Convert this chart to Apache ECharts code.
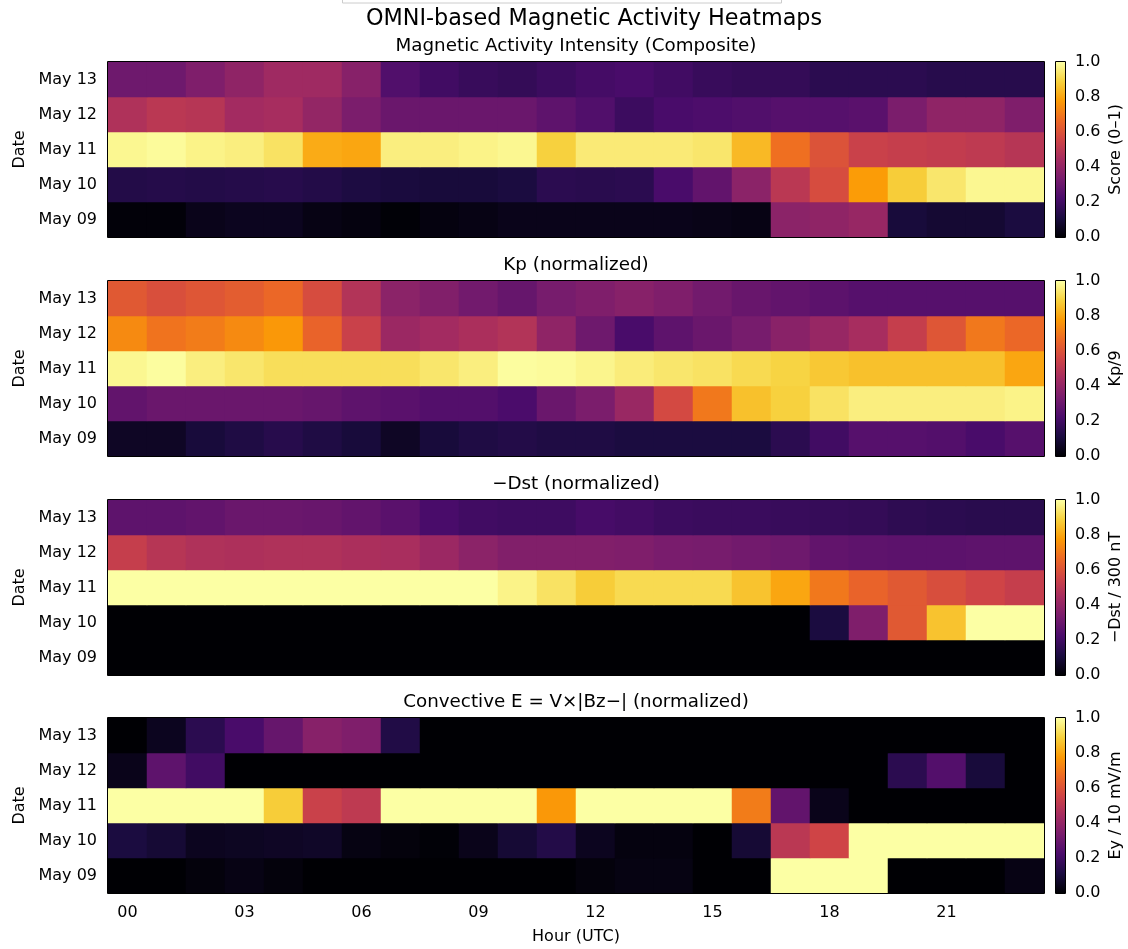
<!DOCTYPE html>
<html>
<head>
<meta charset="utf-8">
<script src="https://cdn.jsdelivr.net/npm/echarts@6/dist/echarts.min.js"></script>
<style>
  html, body { margin: 0; padding: 0; background: #ffffff; }
  #chart { width: 1128px; height: 949px; }
</style>
</head>
<body>
<div id="chart"></div>
<script>
// Hour-of-day categories (UTC) and date rows (bottom to top)
const hours = ['00','01','02','03','04','05','06','07','08','09','10','11',
               '12','13','14','15','16','17','18','19','20','21','22','23'];
const dates = ['May 09', 'May 10', 'May 11', 'May 12', 'May 13'];

// Composite magnetic activity score (0-1), one row per date, 24 hourly values
const composite = [
  [0.01,0.01,0.04,0.05,0.05,0.03,0.02,0.005,0.02,0.03,0.04,0.04,0.04,0.04,0.04,0.035,0.03,0.38,0.39,0.41,0.10,0.085,0.085,0.11],
  [0.13,0.135,0.13,0.135,0.14,0.13,0.115,0.105,0.10,0.10,0.11,0.15,0.145,0.15,0.22,0.28,0.38,0.50,0.58,0.78,0.88,0.94,0.98,0.98],
  [0.98,0.99,0.97,0.96,0.93,0.81,0.80,0.96,0.96,0.97,0.98,0.89,0.95,0.95,0.95,0.94,0.84,0.68,0.60,0.54,0.53,0.52,0.51,0.49],
  [0.47,0.50,0.49,0.44,0.45,0.40,0.34,0.30,0.30,0.30,0.30,0.27,0.24,0.19,0.22,0.23,0.24,0.25,0.25,0.26,0.34,0.39,0.39,0.35],
  [0.31,0.31,0.35,0.39,0.43,0.43,0.37,0.24,0.20,0.18,0.17,0.19,0.21,0.22,0.20,0.18,0.17,0.17,0.15,0.15,0.15,0.14,0.14,0.14]
];

// Kp / 9
const kpNorm = [
  [0.06,0.06,0.10,0.12,0.14,0.12,0.10,0.06,0.10,0.12,0.13,0.12,0.12,0.11,0.11,0.11,0.11,0.15,0.20,0.25,0.25,0.245,0.22,0.25],
  [0.28,0.30,0.30,0.30,0.30,0.29,0.27,0.26,0.245,0.245,0.225,0.30,0.34,0.415,0.57,0.70,0.855,0.89,0.93,0.96,0.96,0.96,0.96,0.97],
  [0.98,0.995,0.96,0.94,0.92,0.92,0.92,0.92,0.94,0.96,0.995,0.99,0.975,0.955,0.94,0.93,0.91,0.895,0.87,0.855,0.855,0.855,0.855,0.80],
  [0.74,0.69,0.71,0.74,0.77,0.65,0.54,0.42,0.44,0.46,0.48,0.39,0.31,0.22,0.27,0.30,0.33,0.375,0.41,0.45,0.53,0.61,0.70,0.66],
  [0.62,0.59,0.61,0.63,0.66,0.58,0.48,0.38,0.355,0.32,0.29,0.33,0.35,0.37,0.35,0.32,0.295,0.28,0.265,0.25,0.25,0.25,0.25,0.25]
];

// -Dst / 300 nT
const dstNorm = [
  [0,0,0,0,0,0,0,0,0,0,0,0,0,0,0,0,0,0,0,0,0,0,0,0],
  [0,0,0,0,0,0,0,0,0,0,0,0,0,0,0,0,0,0,0.11,0.35,0.62,0.86,1.0,1.0],
  [1.0,1.0,1.0,1.0,1.0,1.0,1.0,1.0,1.0,1.0,0.97,0.93,0.88,0.91,0.91,0.91,0.86,0.80,0.70,0.65,0.62,0.585,0.555,0.53],
  [0.53,0.49,0.47,0.465,0.47,0.47,0.46,0.455,0.42,0.38,0.355,0.355,0.355,0.35,0.335,0.33,0.32,0.31,0.28,0.27,0.265,0.265,0.27,0.27],
  [0.27,0.27,0.28,0.30,0.30,0.295,0.28,0.26,0.22,0.20,0.195,0.195,0.215,0.205,0.19,0.185,0.185,0.18,0.175,0.17,0.155,0.15,0.145,0.145]
];

// Convective electric field Ey / 10 mV/m
const convE = [
  [0,0,0.015,0.03,0.015,0,0,0,0,0,0,0,0.015,0.025,0.025,0,0,1.0,1.0,1.0,0,0,0,0.03],
  [0.11,0.09,0.05,0.055,0.06,0.065,0.025,0.015,0.005,0.04,0.09,0.13,0.05,0.02,0.02,0,0.09,0.50,0.555,1.0,1.0,1.0,1.0,1.0],
  [1.0,1.0,1.0,1.0,0.88,0.54,0.51,1.0,1.0,1.0,1.0,0.77,1.0,1.0,1.0,1.0,0.71,0.28,0.04,0,0,0,0,0],
  [0.04,0.27,0.20,0,0,0,0,0,0,0,0,0,0,0,0,0,0,0,0,0,0.15,0.245,0.10,0],
  [0,0.05,0.15,0.22,0.29,0.37,0.35,0.125,0,0,0,0,0,0,0,0,0,0,0,0,0,0,0,0]
];

const panelData = [composite, kpNorm, dstNorm, convE];
const panelTitles = [
  'Magnetic Activity Intensity (Composite)',
  'Kp (normalized)',
  '\u2212Dst (normalized)',
  'Convective E = V\u00d7|Bz\u2212| (normalized)'
];
const colorbarLabels = ['Score (0\u20131)', 'Kp/9', '\u2212Dst / 300 nT', 'Ey / 10 mV/m'];

// inferno colormap stops
const inferno = ['#000004','#1B0C41','#4A0C6B','#781C6D','#A52C60',
                 '#CF4446','#ED6925','#FB9B06','#F7D13D','#FCFFA4'];

const FONT = 'DejaVu Sans';
const TICK_FS = 16;
const plotLeft = 108, plotWidth = 936, plotHeight = 175;
const panelTops = [62, 281, 500, 718];
const cbLeft = 1056, cbWidth = 9;

const grid = [], xAxis = [], yAxis = [], series = [], visualMap = [], title = [], graphic = [];

title.push({
  text: 'OMNI-based Magnetic Activity Heatmaps',
  left: 594, top: 8, textAlign: 'center', padding: 0,
  textStyle: { fontFamily: FONT, fontSize: 22.3, fontWeight: 'normal', color: '#000' }
});

// vertical gradient used for every colorbar (bottom = 0, top = 1)
const cbGradientStops = inferno.map((c, k) => ({ offset: 1 - k / (inferno.length - 1), color: c }));

panelTops.forEach((top, i) => {
  // heatmap panel
  grid.push({ left: plotLeft, top: top, width: plotWidth, height: plotHeight });
  // colorbar scale area
  grid.push({ left: cbLeft, top: top, width: cbWidth, height: plotHeight });

  const isLast = i === panelTops.length - 1;
  xAxis.push({
    type: 'category', gridIndex: 2 * i, data: hours,
    axisLine: { show: false },
    axisTick: { alignWithLabel: true, interval: 2, length: 5, lineStyle: { color: '#000' } },
    axisLabel: { show: isLast, interval: 2, margin: 12, fontFamily: FONT, fontSize: TICK_FS, color: '#000' },
    splitLine: { show: false },
    name: isLast ? 'Hour (UTC)' : '', nameLocation: 'middle', nameGap: 36,
    nameTextStyle: { fontFamily: FONT, fontSize: TICK_FS, color: '#000' }
  });
  yAxis.push({
    type: 'category', gridIndex: 2 * i, data: dates,
    axisLine: { show: false },
    axisTick: { alignWithLabel: true, length: 5, lineStyle: { color: '#000' } },
    axisLabel: { margin: 11, fontFamily: FONT, fontSize: TICK_FS, color: '#000' },
    splitLine: { show: false },
    name: 'Date', nameLocation: 'middle', nameRotate: 90, nameGap: 80,
    nameTextStyle: { fontFamily: FONT, fontSize: TICK_FS, color: '#000' }
  });

  // colorbar scale
  xAxis.push({ type: 'value', gridIndex: 2 * i + 1, show: false });
  yAxis.push({
    type: 'value', gridIndex: 2 * i + 1, position: 'right', min: 0, max: 1, interval: 0.2,
    axisLine: { show: false },
    axisTick: { show: true, length: 5, lineStyle: { color: '#000' } },
    axisLabel: { margin: 10, fontFamily: FONT, fontSize: TICK_FS, color: '#000',
                 formatter: v => v.toFixed(1) },
    splitLine: { show: false },
    name: colorbarLabels[i], nameLocation: 'middle', nameRotate: 90, nameGap: 43,
    nameTextStyle: { fontFamily: FONT, fontSize: TICK_FS, color: '#000' }
  });

  const cells = [];
  panelData[i].forEach((row, r) => row.forEach((v, h) => cells.push([h, r, v])));
  series.push({
    type: 'heatmap', xAxisIndex: 2 * i, yAxisIndex: 2 * i, data: cells,
    progressive: 0, emphasis: { disabled: true }
  });

  visualMap.push({
    type: 'continuous', seriesIndex: i, min: 0, max: 1, show: false,
    inRange: { color: inferno }
  });

  title.push({
    text: panelTitles[i], left: plotLeft + plotWidth / 2, top: top - 25, textAlign: 'center', padding: 0,
    textStyle: { fontFamily: FONT, fontSize: 18.3, fontWeight: 'normal', color: '#000' }
  });

  // colorbar fill
  graphic.push({
    type: 'rect', z: 50, silent: true,
    shape: { x: cbLeft, y: top, width: cbWidth, height: plotHeight },
    style: { fill: new echarts.graphic.LinearGradient(0, 0, 0, 1, cbGradientStops) }
  });
  // frames around the panel and its colorbar
  graphic.push({
    type: 'rect', z: 100, silent: true,
    shape: { x: plotLeft - 0.5, y: top - 0.5, width: plotWidth + 1, height: plotHeight + 1 },
    style: { fill: null, stroke: '#000', lineWidth: 1 }
  });
  graphic.push({
    type: 'rect', z: 100, silent: true,
    shape: { x: cbLeft - 0.5, y: top - 0.5, width: cbWidth + 1, height: plotHeight + 1 },
    style: { fill: null, stroke: '#000', lineWidth: 1 }
  });
});

// thin box edge along the top of the figure
graphic.push({
  type: 'rect', z: 100, silent: true,
  shape: { x: 342.5, y: -10, width: 439, height: 13 },
  style: { fill: null, stroke: '#cccccc', lineWidth: 1 }
});

const chart = echarts.init(document.getElementById('chart'), null, { renderer: 'canvas' });
chart.setOption({
  animation: false,
  backgroundColor: '#ffffff',
  textStyle: { fontFamily: FONT },
  title, grid, xAxis, yAxis, series, visualMap, graphic
});
</script>
</body>
</html>
